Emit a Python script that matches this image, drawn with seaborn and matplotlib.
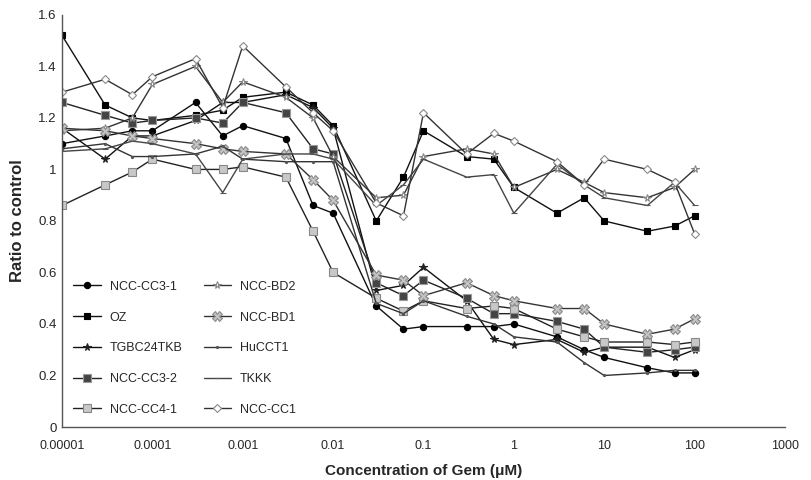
import numpy as np
import pandas as pd
import matplotlib
matplotlib.use("Agg")
import matplotlib.pyplot as plt
import seaborn as sns

# ---- data ----
conc = [1e-5, 3e-5, 6e-5, 1e-4, 3e-4, 6e-4, 1e-3, 3e-3, 6e-3, 1e-2, 3e-2, 6e-2,
        0.1, 0.3, 0.6, 1, 3, 6, 10, 30, 60, 100]

ncc_cc3_1 = [1.10, 1.13, 1.15, 1.15, 1.26, 1.13, 1.17, 1.12, 0.86, 0.83, 0.47, 0.38,
             0.39, 0.39, 0.39, 0.40, 0.35, 0.30, 0.27, 0.23, 0.21, 0.21]
oz = [1.52, 1.25, 1.20, 1.19, 1.21, 1.23, 1.28, 1.30, 1.25, 1.17, 0.80, 0.97,
      1.15, 1.05, 1.04, 0.93, 0.83, 0.89, 0.80, 0.76, 0.78, 0.82]
tgbc24tkb = [1.16, 1.04, 1.13, 1.13, 1.19, 1.26, 1.26, 1.29, 1.24, 1.16, 0.53, 0.55,
             0.62, 0.49, 0.34, 0.32, 0.34, 0.29, 0.31, 0.31, 0.27, 0.30]
ncc_cc3_2 = [1.26, 1.21, 1.18, 1.19, 1.20, 1.18, 1.26, 1.22, 1.08, 1.06, 0.56, 0.51,
             0.57, 0.50, 0.44, 0.44, 0.41, 0.38, 0.31, 0.29, 0.30, 0.31]
ncc_cc4_1 = [0.86, 0.94, 0.99, 1.04, 1.00, 1.00, 1.01, 0.97, 0.76, 0.60, 0.50, 0.45,
             0.49, 0.46, 0.47, 0.46, 0.38, 0.35, 0.33, 0.33, 0.32, 0.33]
ncc_bd2 = [1.15, 1.16, 1.20, 1.33, 1.40, 1.26, 1.34, 1.28, 1.20, 1.05, 0.89, 0.90,
           1.05, 1.08, 1.06, 0.93, 1.00, 0.95, 0.91, 0.89, 0.93, 1.00]
ncc_bd1 = [1.16, 1.15, 1.13, 1.12, 1.10, 1.08, 1.07, 1.06, 0.96, 0.88, 0.59, 0.57,
           0.51, 0.56, 0.51, 0.49, 0.46, 0.46, 0.40, 0.36, 0.38, 0.42]
hucct1 = [1.08, 1.10, 1.05, 1.05, 1.06, 1.09, 1.04, 1.03, 1.03, 1.03, 0.48, 0.44,
          0.49, 0.43, 0.40, 0.35, 0.33, 0.25, 0.20, 0.21, 0.22, 0.22]
tkkk = [1.07, 1.08, 1.11, 1.10, 1.06, 0.91, 1.04, 1.06, 1.06, 1.04, 0.86, 0.94,
        1.04, 0.97, 0.98, 0.83, 1.02, 0.94, 0.89, 0.86, 0.95, 0.86]
ncc_cc1 = [1.30, 1.35, 1.29, 1.36, 1.43, 1.24, 1.48, 1.32, 1.22, 1.15, 0.87, 0.82,
           1.22, 1.06, 1.14, 1.11, 1.03, 0.94, 1.04, 1.00, 0.95, 0.75]

names = ["NCC-CC3-1", "OZ", "TGBC24TKB", "NCC-CC3-2", "NCC-CC4-1",
         "NCC-BD2", "NCC-BD1", "HuCCT1", "TKKK", "NCC-CC1"]
values = [ncc_cc3_1, oz, tgbc24tkb, ncc_cc3_2, ncc_cc4_1,
          ncc_bd2, ncc_bd1, hucct1, tkkk, ncc_cc1]

xticks = [1e-5, 1e-4, 1e-3, 1e-2, 1e-1, 1, 10, 100, 1000]
xticklabels = ["0.00001", "0.0001", "0.001", "0.01", "0.1", "1", "10", "100", "1000"]
yticks = [0, 0.2, 0.4, 0.6, 0.8, 1.0, 1.2, 1.4, 1.6]
yticklabels = ["0", "0.2", "0.4", "0.6", "0.8", "1", "1.2", "1.4", "1.6"]

# ---- styles ----
styles = {
    "NCC-CC3-1": dict(color="#111111", marker="o", markersize=4.5, markerfacecolor="#000000", markeredgecolor="#000000"),
    "OZ":        dict(color="#111111", marker="s", markersize=5, markerfacecolor="#000000", markeredgecolor="#000000"),
    "TGBC24TKB": dict(color="#111111", marker="*", markersize=5.5, markerfacecolor="#222222", markeredgecolor="#222222"),
    "NCC-CC3-2": dict(color="#222222", marker="s", markersize=6, markerfacecolor="#444444", markeredgecolor="#999999"),
    "NCC-CC4-1": dict(color="#222222", marker="s", markersize=6, markerfacecolor="#c8c8c8", markeredgecolor="#888888"),
    "NCC-BD2":   dict(color="#333333", marker="*", markersize=5.5, markerfacecolor="#ffffff", markeredgecolor="#888888"),
    "NCC-BD1":   dict(color="#333333", marker="X", markersize=7, markerfacecolor="#c4c4c4", markeredgecolor="#8a8a8a"),
    "HuCCT1":    dict(color="#333333", marker=".", markersize=3, markerfacecolor="#555555", markeredgecolor="#555555"),
    "TKKK":      dict(color="#444444", marker="_", markersize=4, markerfacecolor="#555555", markeredgecolor="#555555"),
    "NCC-CC1":   dict(color="#333333", marker="D", markersize=4, markerfacecolor="#ffffff", markeredgecolor="#888888"),
}

sns.set_theme(style="white")
plt.rcParams["font.family"] = ["Liberation Sans", "DejaVu Sans"]

fig = plt.figure(figsize=(8.12, 4.8), dpi=100)
ax = fig.add_axes([0.0764, 0.1104, 0.8903, 0.8586])

for name, vals in zip(names, values):
    df = pd.DataFrame({"conc": conc, "ratio": vals})
    st = styles[name]
    sns.lineplot(data=df, x="conc", y="ratio", ax=ax, label=name,
                 color=st["color"], marker=st["marker"], markersize=st["markersize"],
                 markerfacecolor=st["markerfacecolor"], markeredgecolor=st["markeredgecolor"],
                 markeredgewidth=0.8, linewidth=1.0, sort=False)

ax.set_xscale("log")
ax.set_xlim(1e-5, 1000)
ax.set_ylim(0, 1.6)
ax.set_xticks(xticks)
ax.set_xticklabels(xticklabels, fontsize=9)
ax.minorticks_off()
ax.set_yticks(yticks)
ax.set_yticklabels(yticklabels, fontsize=9.5)
ax.tick_params(axis="x", length=0, pad=9)
ax.tick_params(axis="y", length=0, pad=4)

for side in ["top", "right"]:
    ax.spines[side].set_visible(False)
for side in ["left", "bottom"]:
    ax.spines[side].set_color("#555555")
    ax.spines[side].set_linewidth(1.0)
    ax.spines[side].set_linestyle((0, (1, 1)))

ax.set_xlabel("Concentration of Gem (\u03bcM)", fontsize=11, fontweight="bold", labelpad=9)
ax.set_ylabel("Ratio to control", fontsize=12, fontweight="bold", labelpad=9)

leg = ax.legend(ncol=2, loc="lower left", bbox_to_anchor=(0.0, 0.0), frameon=False,
                fontsize=9, labelspacing=1.5, columnspacing=1.7, handlelength=2.2,
                handletextpad=0.7, borderaxespad=0.5)

fig.savefig("out.png", dpi=100)
